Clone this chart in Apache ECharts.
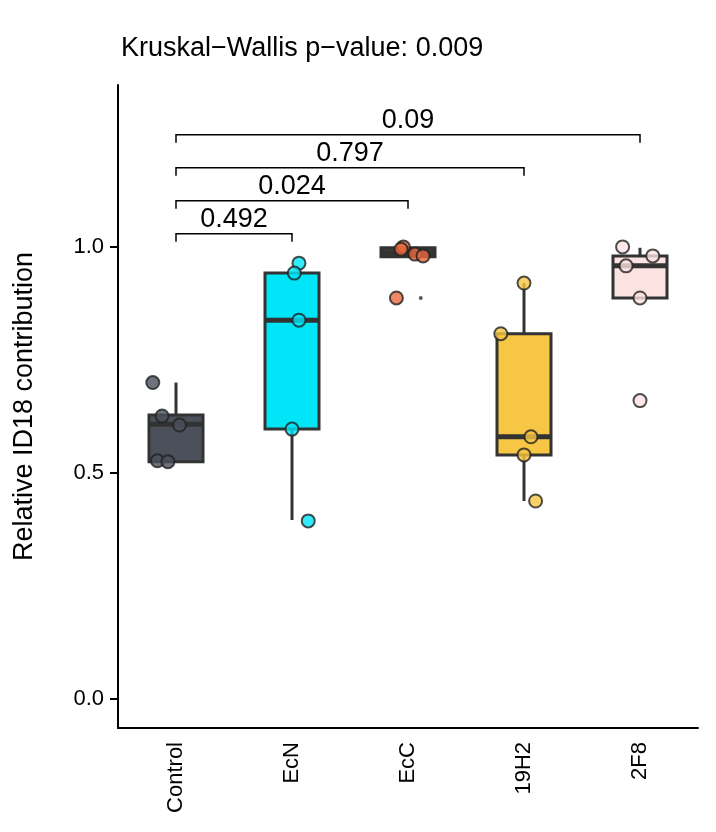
<!DOCTYPE html><html><head><meta charset="utf-8">
<script src="https://cdn.jsdelivr.net/npm/echarts@6/dist/echarts.min.js"></script>
<style>html,body{margin:0;background:#fff}#c{width:716px;height:832px}</style></head><body><div id="c"></div>
<script>
const categories=['Control','EcN','EcC','19H2','2F8'];
const colors=['#4b505b','#00e5f7','#3a3a3a','#f6c644','#fde2e2'];
const pointColors=['#4b505b','#00e5f7','#e8693f','#f6c644','#fde2e2'];
// [low, q1, median, q3, high]
const boxStats=[[0.525,0.525,0.608,0.628,0.70],[0.396,0.597,0.838,0.942,0.942],[0.978,0.978,0.985,0.998,1.0],[0.438,0.54,0.58,0.808,0.92],[0.887,0.887,0.958,0.98,0.998]];
const pointValues=[[0.70,0.626,0.606,0.527,0.525],[0.964,0.942,0.838,0.597,0.394],[1.0,0.995,0.984,0.98,0.887],[0.92,0.808,0.58,0.54,0.438],[1.0,0.98,0.958,0.887,0.66]];
const pointJitter=[[-0.2,-0.12,0.03,-0.16,-0.07],[0.06,0.02,0.06,0.0,0.14],[-0.04,-0.06,0.06,0.13,-0.1],[0.0,-0.2,0.06,0.0,0.1],[-0.15,0.11,-0.12,0.0,0.0]];
const outliers=[[2.11,0.887]];
const brackets=[[0,1,1.029,'0.492'],[0,2,1.102,'0.024'],[0,3,1.175,'0.797'],[0,4,1.248,'0.09']];
const yTicks=[0,0.5,1.0];
const ch=echarts.init(document.getElementById('c'));
const scatterData=[];
pointValues.forEach((vs,i)=>vs.forEach((v,j)=>scatterData.push({value:[i+pointJitter[i][j],v],itemStyle:{color:pointColors[i]}})));
const font='Liberation Sans, Arial, sans-serif';
ch.setOption({
 animation:false,
 title:{text:'Kruskal\u2212Wallis p\u2212value: 0.009',left:116,top:30,textStyle:{fontFamily:font,fontSize:27,fontWeight:'normal',color:'#000'}},
 grid:{left:118,right:18,top:85,bottom:104},
 xAxis:[{type:'category',data:categories,axisLine:{onZero:false,lineStyle:{color:'#000',width:2}},axisTick:{length:8,lineStyle:{color:'#000',width:2},alignWithLabel:true},
   axisLabel:{rotate:90,fontSize:22,color:'#000',fontFamily:font,margin:14}},
  {type:'value',min:-0.5,max:4.5,show:false}],
 yAxis:{type:'value',min:-0.064,max:1.358,name:'Relative ID18 contribution',nameLocation:'middle',nameGap:80,nameTextStyle:{fontSize:27,color:'#000',fontFamily:font},
  axisLine:{show:true,onZero:false,lineStyle:{color:'#000',width:2}},splitLine:{show:false},
  axisLabel:{fontSize:22,color:'#000',fontFamily:font,margin:14,customValues:yTicks,formatter:v=>v.toFixed(1)},
  axisTick:{show:true,length:8,customValues:yTicks,lineStyle:{color:'#000',width:2}}},
 series:[
  {type:'custom',xAxisIndex:1,data:boxStats.map((b,i)=>[i,...b]),z:2,renderItem:(p,api)=>{
    const i=api.value(0);const c=v=>api.coord([i,v]);const w=27;
    const lo=c(api.value(1)),q1=c(api.value(2)),md=c(api.value(3)),q3=c(api.value(4)),hi=c(api.value(5));
    const ls={stroke:'#333',lineWidth:3};
    return {type:'group',children:[
     {type:'line',shape:{x1:hi[0],y1:hi[1],x2:q3[0],y2:q3[1]},style:ls},
     {type:'line',shape:{x1:q1[0],y1:q1[1],x2:lo[0],y2:lo[1]},style:ls},
     {type:'rect',shape:{x:q3[0]-w,y:q3[1],width:2*w,height:q1[1]-q3[1]},style:{fill:colors[i],stroke:'#333',lineWidth:3}},
     {type:'line',shape:{x1:md[0]-w,y1:md[1],x2:md[0]+w,y2:md[1]},style:{stroke:'#333',lineWidth:5}}]};
  }},
  {type:'scatter',xAxisIndex:1,symbolSize:13,data:scatterData,itemStyle:{opacity:0.8,borderColor:'#222',borderWidth:2},z:3},
  {type:'scatter',xAxisIndex:1,symbolSize:4,data:outliers,itemStyle:{color:'#333'},z:3},
  {type:'custom',xAxisIndex:1,data:brackets,z:4,renderItem:(p,api)=>{
    const a=api.coord([api.value(0),api.value(2)]),b=api.coord([api.value(1),api.value(2)]);
    const d=8;const s={stroke:'#000',lineWidth:1.5,fill:null};
    return {type:'group',children:[
     {type:'polyline',shape:{points:[[a[0],a[1]+d],a,b,[b[0],b[1]+d]]},style:s},
     {type:'text',style:{text:brackets[p.dataIndex][3],x:(a[0]+b[0])/2,y:a[1]-1,align:'center',verticalAlign:'bottom',fontSize:27,fontFamily:font,fill:'#000'}}]};
  }}
 ]});
</script></body></html>
